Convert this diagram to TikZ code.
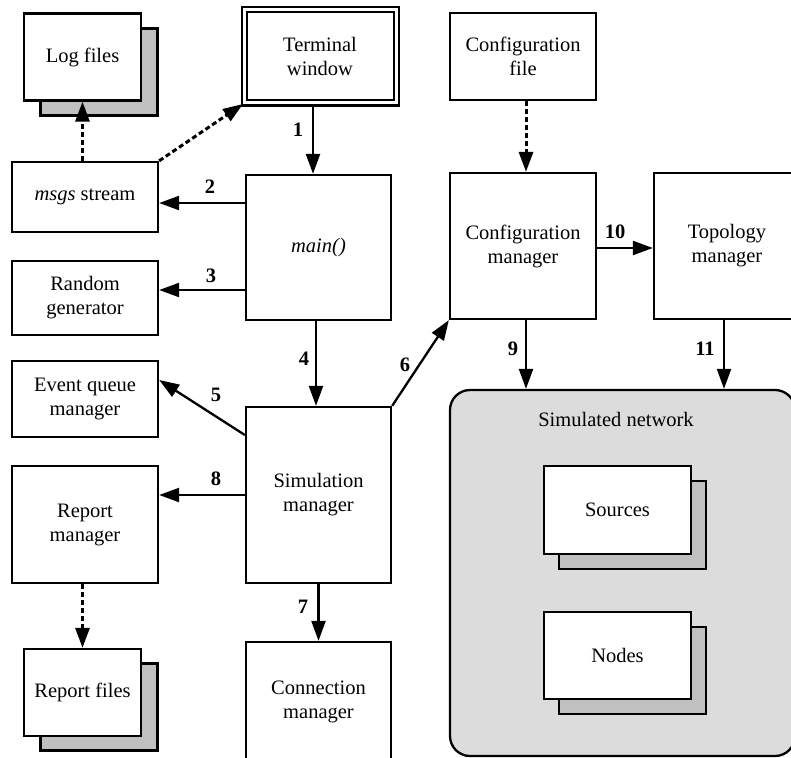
\documentclass[tikz,border=0pt]{standalone}
\usepackage{fontspec}
\setmainfont{Liberation Serif}
\usetikzlibrary{arrows.meta,calc}
\definecolor{shadowgray}{HTML}{C0C0C0}
\definecolor{netgray}{HTML}{DCDCDC}
\begin{document}
\begin{tikzpicture}[x=1pt,y=-1pt,
  every node/.style={font=\rmfamily\fontsize{20.5}{24}\selectfont},
  box/.style={draw,line width=2.3pt,fill=white,align=center,inner sep=0pt},
  shadowbox/.style={draw,line width=2.3pt,fill=shadowgray,inner sep=0pt},
  arr/.style={line width=2.3pt,-{Triangle[length=20pt,width=14pt]}},
  darr/.style={line width=3pt,dash pattern=on 5pt off 3pt,-{Triangle[length=20pt,width=14pt]}},
  num/.style={font=\rmfamily\fontsize{20.5}{24}\selectfont\bfseries,inner sep=0pt}]
\useasboundingbox (0,0) rectangle (791,757);
\clip (0,0) rectangle (791,757);
% simulated network container
\node[draw,line width=2.3pt,fill=netgray,rounded corners=20pt,minimum width=345pt,minimum height=366pt,inner sep=0pt] (net) at (622.5,573) {};
\node (netlabel) at (616,419) {Simulated network};
% shadows
\node[shadowbox,minimum width=117pt,minimum height=87pt] (logfs) at (99,72) {};
\node[shadowbox,minimum width=117pt,minimum height=87pt] (repfs) at (99,707) {};
\node[shadowbox,minimum width=147pt,minimum height=88pt] (srcs) at (632.5,525) {};
\node[shadowbox,minimum width=147pt,minimum height=87pt] (nodess) at (632.5,670.5) {};
% boxes
\node[box,minimum width=117pt,minimum height=87pt] (logf) at (82.5,57) {Log files};
\node[box,double,double distance=3pt,line width=2pt,minimum width=152pt,minimum height=93pt] (term) at (320,56.5) {Terminal\\window};
\node[box,minimum width=146pt,minimum height=70pt] (msgs) at (85,197) {\textit{msgs} stream};
\node[box,minimum width=145pt,minimum height=145pt] (main) at (318.5,247.5) {\textit{main()}};
\node[box,minimum width=146pt,minimum height=74pt] (rand) at (85,298) {Random\\generator};
\node[box,minimum width=146pt,minimum height=76pt] (evq) at (85,399) {Event queue\\manager};
\node[box,minimum width=145pt,minimum height=176pt] (sim) at (318.5,495) {Simulation\\manager};
\node[box,minimum width=146pt,minimum height=117pt] (rep) at (85,524.5) {Report\\manager};
\node[box,minimum width=117pt,minimum height=87pt] (repf) at (82.5,692.5) {Report files};
\node[box,minimum width=145pt,minimum height=120pt] (conn) at (318.5,702) {Connection\\manager};
\node[box,minimum width=146pt,minimum height=87pt] (cfgf) at (523,56.5) {Configuration\\file};
\node[box,minimum width=146pt,minimum height=146pt] (cfgm) at (523,246) {Configuration\\manager};
\node[box,minimum width=146pt,minimum height=146pt] (topo) at (727,246) {Topology\\manager};
\node[box,minimum width=147pt,minimum height=88pt] (src) at (617.5,510) {Sources};
\node[box,minimum width=147pt,minimum height=87pt] (nodes) at (617.5,655.5) {Nodes};
% dashed connectors
\draw[darr] (logf.south |- msgs.north) -- (logf.south);
\draw[darr] (msgs.north east) -- (term.south west);
\draw[darr] (repf.north |- rep.south) -- (repf.north);
\draw[darr] ([xshift=3pt]cfgf.south) -- ([xshift=3pt]cfgm.north);
% solid connectors
\draw[arr] ([xshift=-7pt]term.south) coordinate (a1) -- (a1 |- main.north);
\draw[arr] ([yshift=44.5pt]main.west) coordinate (a2) -- (a2 -| msgs.east);
\draw[arr] ([yshift=-42.5pt]main.west) coordinate (a3) -- (a3 -| rand.east);
\draw[arr] ([xshift=-2.5pt]main.south) coordinate (a4) -- (a4 |- sim.north);
\draw[arr] ([yshift=60pt]sim.west) -- ([yshift=19pt]evq.east);
\draw[arr] (sim.north east) -- (cfgm.south west);
\draw[arr] (sim.south) -- (conn.north);
\draw[arr] (sim.west) -- (sim.west -| rep.east);
\draw[arr] ([xshift=3pt]cfgm.south) coordinate (a9) -- (a9 |- net.north);
\draw[arr] ([yshift=-2pt]cfgm.east) coordinate (a10) -- (a10 -| topo.west);
\draw[arr] ([xshift=-3pt]topo.south) coordinate (a11) -- (a11 |- net.north);
% labels
\node[num] (n1) at (298,130) {1};
\node[num] (n2) at (210,187) {2};
\node[num] (n3) at (211,276) {3};
\node[num] (n4) at (304,359) {4};
\node[num] (n5) at (216,395) {5};
\node[num] (n6) at (405,365) {6};
\node[num] (n7) at (303,607) {7};
\node[num] (n8) at (216,479) {8};
\node[num] (n9) at (513,349) {9};
\node[num] (n10) at (615,232) {10};
\node[num] (n11) at (705,349) {11};
\end{tikzpicture}
\end{document}
